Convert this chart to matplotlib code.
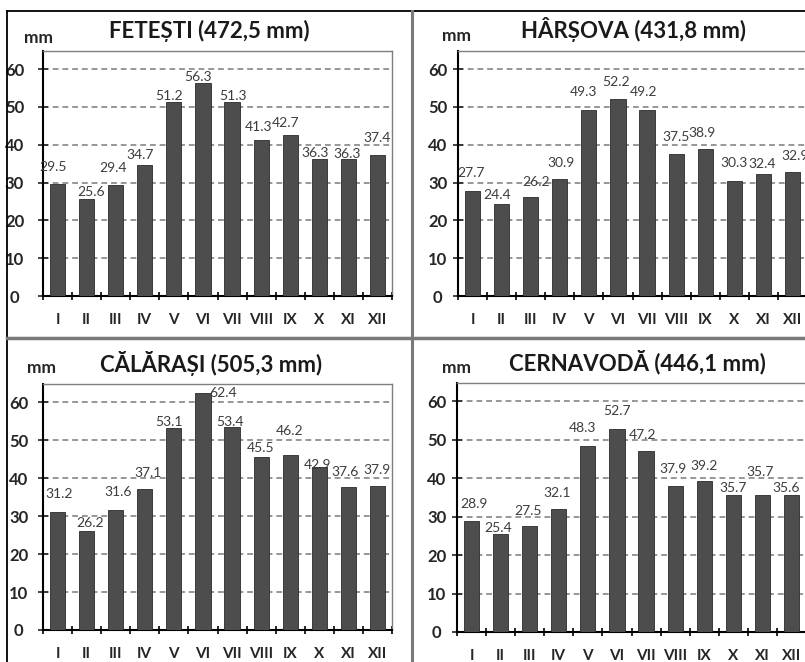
import matplotlib.pyplot as plt
from matplotlib.lines import Line2D
import numpy as np

plt.rcParams['font.family'] = ['Lato', 'DejaVu Sans']

months = ['I', 'II', 'III', 'IV', 'V', 'VI', 'VII', 'VIII', 'IX', 'X', 'XI', 'XII']

fetesti = [29.5, 25.6, 29.4, 34.7, 51.2, 56.3, 51.3, 41.3, 42.7, 36.3, 36.3, 37.4]
harsova = [27.7, 24.4, 26.2, 30.9, 49.3, 52.2, 49.2, 37.5, 38.9, 30.3, 32.4, 32.9]
calarasi = [31.2, 26.2, 31.6, 37.1, 53.1, 62.4, 53.4, 45.5, 46.2, 42.9, 37.6, 37.9]
cernavoda = [28.9, 25.4, 27.5, 32.1, 48.3, 52.7, 47.2, 37.9, 39.2, 35.7, 35.7, 35.6]

titles = ['FETEȘTI (472,5 mm)', 'HÂRȘOVA (431,8 mm)',
          'CĂLĂRAȘI (505,3 mm)', 'CERNAVODĂ (446,1 mm)']

W, H = 805, 662

# label nudges in pixels (dx, dy above bar top), as placed by hand in the original
nudges = [
    [(-4, 17), (4, 7), (-3, 17), (-5, 10), (-5, 6), (-5, 6), (1, 6), (-3, 13), (-5, 12), (-4, 6), (-1, 5), (0, 17)],
    [(-2, 18), (-5, 9), (5, 15), (1, 16), (-5, 18), (-2, 17), (-3, 18), (0, 17), (-3, 16), (0, 18), (-1, 10), (3, 16)],
    [(2, 18), (3, 8), (2, 18), (3, 16), (-5, 6), (20, 0), (-2, 5), (-1, 9), (-1, 24), (-2, 2), (-3, 15), (0, 16)],
    [(2, 17), (-3, 6), (-2, 15), (-2, 16), (-5, 18), (0, 18), (-3, 16), (-2, 17), (0, 15), (0, 7), (-2, 23), (-5, 7)],
]

# axes boxes in pixels: left, right, top, bottom
boxes = [(43, 392, 51, 296), (458, 807, 51, 296),
         (43, 392, 384, 630), (457, 806, 383, 632)]
ytick_pad = [17, 11, 14, 11]
title_pos = [(209, 31), (633, 30), (211, 363), (637, 362)]
mm_pos = [(38, 38), (456, 36), (41, 368), (456, 368)]

fig = plt.figure(figsize=(W / 100, H / 100), dpi=100)


def px(x, y):
    return x / W, 1 - y / H


def draw_panel(values, box, offsets, ypad):
    l, r, t, b = box
    ax = fig.add_axes([l / W, 1 - b / H, (r - l) / W, (b - t) / H])
    x = np.arange(len(months))
    bars = ax.bar(x, values, width=0.52, color='#4d4d4d', edgecolor='#2b2b2b',
                  linewidth=0.6, zorder=3)
    for bar, v, (dx, dy) in zip(bars, values, offsets):
        ax.annotate(f'{v:.1f}', (bar.get_x() + bar.get_width() / 2, v),
                    xytext=(dx, dy), textcoords='offset pixels',
                    ha='center', va='center', fontsize=10, color='#3d3d3d',
                    zorder=4)
    ax.set_xlim(-0.5, 11.5)
    ax.set_ylim(0, 64.8)
    ax.set_yticks(range(0, 61, 10))
    ax.set_xticks(x)
    ax.set_xticklabels(months, fontsize=11, fontweight='bold', color='#262626')
    ax.set_xticks(np.arange(-0.5, 12, 1), minor=True)
    ax.tick_params(axis='x', which='major', length=0, pad=12)
    ax.tick_params(axis='x', which='minor', length=6, width=1.2, direction='inout')
    ax.tick_params(axis='y', length=7, width=1.2, direction='inout', pad=ypad,
                   labelsize=12, colors='#262626')
    for lab in ax.get_yticklabels():
        lab.set_fontweight('bold')
        lab.set_horizontalalignment('center')
    ax.yaxis.grid(True, color='#979797', linestyle=(0, (3, 2)), linewidth=1.4, zorder=1)
    ax.set_axisbelow(True)
    ax.spines['left'].set_linewidth(1.5)
    ax.spines['bottom'].set_linewidth(1.5)
    for s in ['top', 'right']:
        ax.spines[s].set_color('#7f7f7f')
        ax.spines[s].set_linewidth(1.0)
    return ax


for vals, box, off, ypad, title, tp, mp in zip([fetesti, harsova, calarasi, cernavoda],
                                               boxes, nudges, ytick_pad, titles,
                                               title_pos, mm_pos):
    draw_panel(vals, box, off, ypad)
    fig.text(*px(*tp), title, ha='center', va='center', fontsize=16,
             fontweight='bold', color='#1a1a1a')
    fig.text(*px(*mp), 'mm', ha='center', va='center', fontsize=12.5,
             fontweight='bold', color='#262626')

# frame lines of the screenshot
fig.add_artist(Line2D([7 / W, 1], [1 - 10.5 / H] * 2, color='black', lw=1.3))
fig.add_artist(Line2D([7 / W] * 2, [0, 1 - 10.5 / H], color='black', lw=1.3))
fig.add_artist(Line2D([411.5 / W] * 2, [0, 1 - 10.5 / H], color='#7a7a7a', lw=2.2))
fig.add_artist(Line2D([7 / W, 1], [1 - 338 / H] * 2, color='#7a7a7a', lw=2.5))

fig.savefig('out.png', dpi=100)
